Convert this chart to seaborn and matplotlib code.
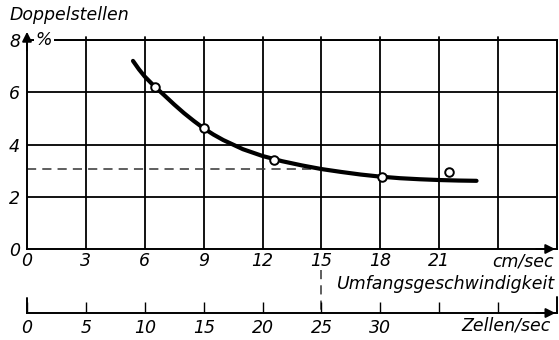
import matplotlib
matplotlib.use('Agg')
import matplotlib.pyplot as plt
import seaborn as sns

# data
speed_ticks = [0, 3, 6, 9, 12, 15, 18, 21, 24]           # cm/sec
speed_labels = ['0', '3', '6', '9', '12', '15', '18', '21', '']
cell_ticks = [0, 5, 10, 15, 20, 25, 30, 35, 40]          # Zellen/sec
cell_labels = ['0', '5', '10', '15', '20', '25', '30', '', '']
pct_ticks = [0, 2, 4, 6, 8]
pct_labels = ['0', '2', '4', '6', '8']

curve_x = [5.4, 5.7, 6.0, 6.5, 7.0, 7.5, 8.0, 8.5, 9.0, 9.5, 10.0, 11.0, 12.0,
           13.0, 14.0, 15.0, 16.0, 17.0, 18.0, 19.0, 20.0, 21.0, 22.0, 22.9]
curve_y = [7.2, 6.88, 6.6, 6.22, 5.88, 5.53, 5.2, 4.9, 4.62, 4.38, 4.17, 3.82,
           3.56, 3.36, 3.2, 3.06, 2.95, 2.85, 2.77, 2.71, 2.67, 2.64, 2.62, 2.61]

meas_x = [6.5, 9.0, 12.6, 18.1, 21.5]
meas_y = [6.22, 4.62, 3.4, 2.77, 2.95]

ref_level = 3.06
ref_speed = 15

sns.set_style('white')
plt.rcParams['font.family'] = ['DejaVu Sans']
plt.rcParams['font.style'] = 'oblique'
plt.rcParams['font.size'] = 12.5
plt.rcParams['text.color'] = 'black'
plt.rcParams['xtick.color'] = 'black'
plt.rcParams['ytick.color'] = 'black'

fig = plt.figure(figsize=(5.59, 3.40), dpi=100)
W, H = 559, 340
ax = fig.add_axes([27 / W, 91 / H, 530 / W, 209 / H])
ax.set_xlim(0, 27)
ax.set_ylim(0, 8)

# grid
for gx in speed_ticks[1:]:
    ax.axvline(gx, color='black', lw=1.3, zorder=1)
    ax.plot([gx, gx], [8, 8.12], color='black', lw=1.3, clip_on=False)
for gy in pct_ticks[1:]:
    ax.axhline(gy, color='black', lw=1.3, zorder=1)

for side in ['left', 'bottom', 'right', 'top']:
    ax.spines[side].set_color('black')
    ax.spines[side].set_linewidth(1.4)
    ax.spines[side].set_visible(True)

ax.set_xticks(speed_ticks)
ax.set_xticklabels(speed_labels)
ax.set_yticks(pct_ticks)
ax.set_yticklabels(pct_labels)
ax.tick_params(axis='x', length=0, pad=2, labelsize=12.5)
ax.tick_params(axis='y', length=0, pad=5, labelsize=12.5)

# reference dashed line
ax.plot([0, ref_speed], [ref_level, ref_level], color='#333333', lw=1.1,
        dashes=(6, 4), zorder=2)
ax.plot([ref_speed, ref_speed], [-0.8, -2.45], color='#333333', lw=1.1,
        dashes=(6, 4), clip_on=False)

sns.lineplot(x=curve_x, y=curve_y, ax=ax, color='black', lw=3.0, zorder=3,
             estimator=None, sort=False)
sns.scatterplot(x=meas_x, y=meas_y, ax=ax, s=38, facecolor='white',
                edgecolor='black', linewidth=1.4, zorder=4)

# axis arrows
ax.annotate('', xy=(27.05, 0), xytext=(25.8, 0), annotation_clip=False,
            arrowprops=dict(arrowstyle='-|>', color='black', lw=1.4,
                            mutation_scale=14))
ax.annotate('', xy=(0, 8.42), xytext=(0, 7.5), annotation_clip=False,
            arrowprops=dict(arrowstyle='-|>', color='black', lw=1.4,
                            mutation_scale=14))
ax.text(0.45, 8.0, '%', ha='left', va='center', fontsize=12.5,
        bbox=dict(facecolor='white', edgecolor='none', pad=1.5), zorder=5)

# second scale
ax2 = fig.add_axes([27 / W, 27 / H, 530 / W, 30 / H])
ax2.set_xlim(0, 45)
ax2.set_ylim(0, 1)
ax2.patch.set_alpha(0)
for side in ['left', 'right', 'top']:
    ax2.spines[side].set_visible(False)
ax2.spines['bottom'].set_color('black')
ax2.spines['bottom'].set_linewidth(1.4)
ax2.set_yticks([])
ax2.set_xticks(cell_ticks)
ax2.set_xticklabels(cell_labels)
ax2.tick_params(axis='x', bottom=True, direction='in', length=8, width=1.0,
                pad=4, labelsize=12.5)
ax2.plot([0, 0], [0, 0.5], color='black', lw=1.4, clip_on=False)
ax2.plot([45, 45], [0, 0.55], color='black', lw=1.4, clip_on=False)
ax2.annotate('', xy=(45.1, 0), xytext=(43, 0), annotation_clip=False,
             arrowprops=dict(arrowstyle='-|>', color='black', lw=1.4,
                             mutation_scale=14))

# labels
fig.text(10 / W, 1 - 15 / H, 'Doppelstellen', ha='left', va='center', fontsize=12.5)
fig.text(554 / W, 1 - 262 / H, 'cm/sec', ha='right', va='center', fontsize=12.5)
fig.text(555 / W, 1 - 284 / H, 'Umfangsgeschwindigkeit', ha='right', va='center', fontsize=12.5)
fig.text(551 / W, 1 - 326 / H, 'Zellen/sec', ha='right', va='center', fontsize=12.5)

fig.savefig('out.png', dpi=100)
